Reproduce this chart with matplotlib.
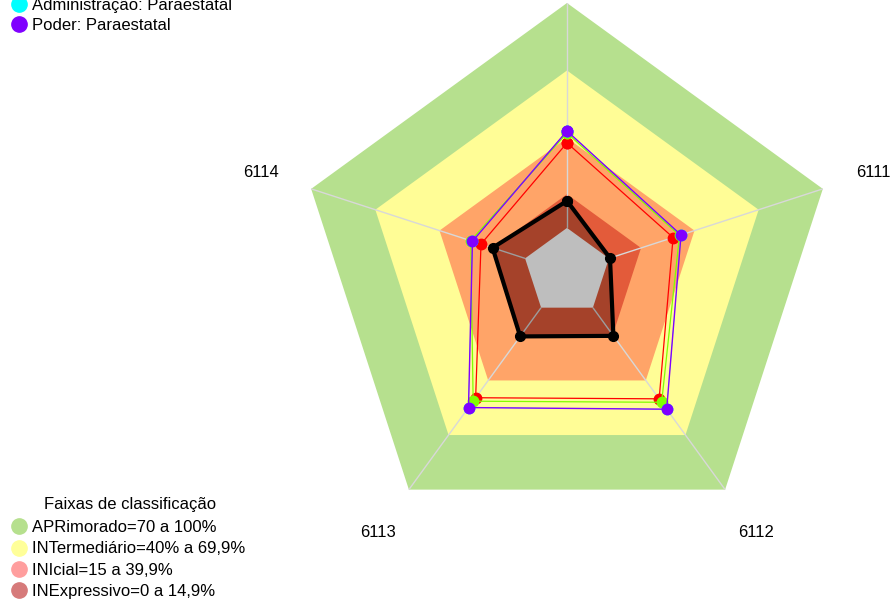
import numpy as np
import matplotlib
matplotlib.use("Agg")
import matplotlib.pyplot as plt
from matplotlib.lines import Line2D

plt.rcParams['font.family'] = ['Liberation Sans', 'DejaVu Sans']

# Axes of the radar (clockwise from the top)
categories = ["6110", "6111", "6112", "6113", "6114"]

# Series values (%)
serie_preta = [12.0, 0.5, 15.5, 15.8, 15.2]
serie_vermelha = [37.8, 30.0, 50.1, 49.5, 20.6]
serie_verde = [42.2, 33.0, 52.0, 51.4, 25.4]
administracao_paraestatal = [43.1, 33.7, 55.8, 54.9, 24.6]
poder_paraestatal = [43.1, 33.7, 55.8, 54.9, 24.6]

# Classification bands (upper limit of each band, %)
faixas_limites = [100, 70, 40, 15]
faixas_cores = ["#B6E08E", "#FFFD96", "#FFA468", "#E35B3A"]
faixas_legenda = ["APRimorado=70 a 100%", "INTermediário=40% a 69,9%",
                  "INIcial=15 a 39,9%", "INExpressivo=0 a 14,9%"]
faixas_legenda_cores = ["#B6E08E", "#FFFF99", "#FF9E9E", "#D67A7A"]

W, H = 892, 600
fig = plt.figure(figsize=(W / 100, H / 100), dpi=100)

cx, cy, R = 567, 272, 269
ax = fig.add_axes([(cx - R) / W, (H - cy - R) / H, 2 * R / W, 2 * R / H],
                  projection="polar")
ax.set_theta_offset(np.pi / 2)
ax.set_theta_direction(-1)
ax.set_ylim(0, 100)
ax.set_rorigin(-19.6)
ax.axis("off")

n = len(categories)
theta = np.arange(n) * 2 * np.pi / n
theta_c = np.append(theta, theta[0])


def closed(v):
    return np.append(v, v[0])


# Bands, outermost first (filled through the central hole as well)
for lim, cor in zip(faixas_limites, faixas_cores):
    ax.fill(theta_c, closed([lim] * n), color=cor, lw=0, zorder=1,
            clip_on=False)

# Radial spokes
for t in theta:
    ax.plot([t, t], [0, 100], color="#D8D8D8", lw=1, zorder=2)

# Black series fill (darkens the band beneath)
ax.fill(theta_c, closed(serie_preta), color="black", alpha=0.27, lw=0,
        zorder=3, clip_on=False)

# Centre hole
ax.fill(theta_c, closed([0] * n), color="#BEBEBE", lw=0, zorder=4,
        clip_on=False)

ax.plot(theta_c, closed(serie_preta), color="black", lw=3, marker="o",
        ms=7, zorder=5, clip_on=False)
series = [(serie_vermelha, "#FF0000", 0.9), (serie_verde, "#80FF00", 0.9),
          (administracao_paraestatal, "#00FFFF", 0.3),
          (poder_paraestatal, "#8000FF", 1.0)]
for vals, cor, lw in series:
    ax.plot(theta_c, closed(vals), color=cor, lw=lw, marker="o", ms=7.5,
            zorder=6)

# Axis labels (the top one falls above the canvas)
for t, lab in zip(theta[1:], categories[1:]):
    ax.text(t, 123.5, lab, ha="center", va="center", fontsize=12,
            clip_on=False)

# Series legend (top left)
h_series = [Line2D([], [], ls="none", marker="o", ms=11, color="#00FFFF"),
            Line2D([], [], ls="none", marker="o", ms=11, color="#8000FF")]
fig.legend(h_series, ["Administração: Paraestatal", "Poder: Paraestatal"],
           loc="upper left", bbox_to_anchor=(9 / W, 1.0 + 7 / H),
           frameon=False, fontsize=12, handlelength=0.6, handletextpad=0.5,
           labelspacing=0.3, borderpad=0.3, borderaxespad=0)

# Band legend (bottom left)
h_faixas = [Line2D([], [], ls="none", marker="o", ms=11, color=c)
            for c in faixas_legenda_cores]
leg = fig.legend(h_faixas, faixas_legenda, title="Faixas de classificação",
                 loc="lower left", bbox_to_anchor=(9 / W, -4 / H),
                 frameon=False, fontsize=12, title_fontsize=12,
                 handlelength=0.6, handletextpad=0.5, labelspacing=0.38,
                 borderpad=0.3, borderaxespad=0)
leg._legend_box.sep = 6

fig.savefig("out.png", dpi=100)
